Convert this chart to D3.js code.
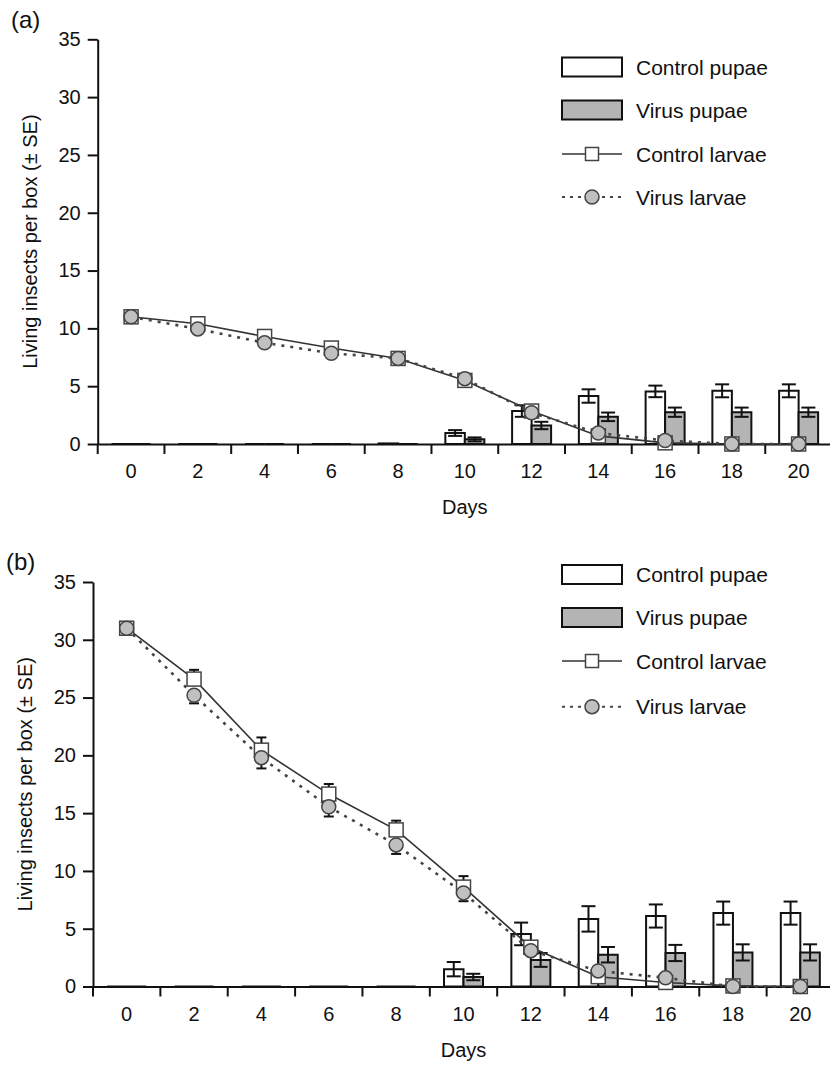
<!DOCTYPE html>
<html>
<head>
<meta charset="utf-8">
<script src="https://cdn.jsdelivr.net/npm/d3@7"></script>
<style>
  body { margin: 0; background: #fff; }
  svg text { font-family: "Liberation Sans", Arial, Helvetica, sans-serif; fill: #111; }
</style>
</head>
<body>
<svg id="chart" width="830" height="1065"></svg>
<script>
// days sampled
var days = [0, 2, 4, 6, 8, 10, 12, 14, 16, 18, 20];
var yTicks = [0, 5, 10, 15, 20, 25, 30, 35];
var legendLabels = ["Control pupae", "Virus pupae", "Control larvae", "Virus larvae"];

// panel (a)
var aControlPupae   = [0, 0, 0, 0, 0.05, 0.95, 2.85, 4.15, 4.55, 4.6, 4.6];
var aControlPupaeSE = [0, 0, 0, 0, 0, 0.25, 0.5, 0.58, 0.5, 0.56, 0.56];
var aVirusPupae     = [0, 0, 0, 0, 0, 0.4, 1.6, 2.35, 2.75, 2.75, 2.75];
var aVirusPupaeSE   = [0, 0, 0, 0, 0, 0.17, 0.32, 0.37, 0.4, 0.4, 0.4];
var aControlLarvae   = [11.0, 10.4, 9.3, 8.3, 7.4, 5.5, 2.85, 0.7, 0.1, 0, 0];
var aControlLarvaeSE = [0.2, 0.2, 0.2, 0.2, 0.2, 0.2, 0.2, 0.2, 0.1, 0, 0];
var aVirusLarvae     = [11.0, 9.95, 8.75, 7.85, 7.4, 5.65, 2.7, 0.95, 0.3, 0, 0];
var aVirusLarvaeSE   = [0.2, 0.2, 0.2, 0.2, 0.2, 0.2, 0.2, 0.2, 0.1, 0, 0];

// panel (b)
var bControlPupae   = [0, 0, 0, 0, 0, 1.5, 4.55, 5.85, 6.1, 6.35, 6.35];
var bControlPupaeSE = [0, 0, 0, 0, 0, 0.62, 0.98, 1.1, 1.0, 1.0, 1.0];
var bVirusPupae     = [0, 0, 0, 0, 0, 0.82, 2.3, 2.75, 2.9, 2.95, 2.95];
var bVirusPupaeSE   = [0, 0, 0, 0, 0, 0.28, 0.6, 0.67, 0.7, 0.7, 0.7];
var bControlLarvae   = [31.0, 26.6, 20.45, 16.65, 13.55, 8.6, 3.4, 0.85, 0.35, 0.05, 0];
var bControlLarvaeSE = [0.2, 0.8, 1.1, 0.87, 0.8, 0.95, 0.3, 0.2, 0.1, 0, 0];
var bVirusLarvae     = [31.0, 25.2, 19.8, 15.55, 12.25, 8.1, 3.1, 1.35, 0.75, 0, 0];
var bVirusLarvaeSE   = [0.2, 0.7, 0.93, 0.84, 0.78, 0.72, 0.3, 0.2, 0.1, 0, 0];

var svg = d3.select("#chart");

function drawPanel(p) {
  var g = svg.append("g");

  var x = d3.scaleBand().domain(days).range([p.left, p.right]).padding(0);
  var y = d3.scaleLinear().domain([0, 35]).range([p.bottom, p.top]);
  var bw = x.bandwidth();
  var cx = function(i) { return x(days[i]) + bw / 2; };

  // y axis
  var yAxis = g.append("g")
     .attr("transform", "translate(" + p.left + ",0)")
     .call(d3.axisLeft(y).tickValues(yTicks).tickSize(10).tickPadding(7).tickSizeOuter(0));
  yAxis.select(".domain").attr("stroke", "#111").attr("stroke-width", 2);
  yAxis.selectAll(".tick line").attr("stroke", "#111").attr("stroke-width", 2);
  yAxis.selectAll("text").style("font-size", "20px").attr("fill", "#111");

  // x axis: labels centered in bands, ticks on band edges
  var xAxis = g.append("g")
     .attr("transform", "translate(0," + p.bottom + ")")
     .call(d3.axisBottom(x).tickSize(0).tickPadding(20).tickSizeOuter(0));
  xAxis.select(".domain").attr("stroke", "#111").attr("stroke-width", 2);
  xAxis.selectAll("text").style("font-size", "20px").attr("fill", "#111");
  g.selectAll(".xedge")
    .data(days)
    .enter().append("line")
    .attr("x1", function(d) { return x(d); })
    .attr("x2", function(d) { return x(d); })
    .attr("y1", p.bottom)
    .attr("y2", p.bottom + 10)
    .attr("stroke", "#111")
    .attr("stroke-width", 2);

  // axis titles
  g.append("text")
   .attr("x", (p.left + p.right) / 2)
   .attr("y", p.bottom + 70)
   .attr("text-anchor", "middle")
   .style("font-size", "20px")
   .text("Days");
  g.append("text")
   .attr("transform", "translate(" + p.ylabX + "," + ((p.top + p.bottom) / 2) + ") rotate(-90)")
   .attr("text-anchor", "middle")
   .style("font-size", "20px")
   .text("Living insects per box (\u00b1 SE)");
  g.append("text")
   .attr("x", p.tagX)
   .attr("y", p.tagY)
   .style("font-size", "24px")
   .text(p.tag);

  // bars (paths so zero-height bars still show as a stroke)
  var barW = 19.5;
  function bars(vals, offset, fill) {
    g.selectAll(null)
      .data(vals)
      .enter().append("path")
      .attr("d", function(d, i) {
        var x0 = cx(i) + offset, x1 = x0 + barW;
        return "M" + x0 + "," + y(0) + "V" + y(d) + "H" + x1 + "V" + y(0) + "Z";
      })
      .attr("fill", fill)
      .attr("stroke", "#111")
      .attr("stroke-width", 2);
  }
  bars(p.cPupae, -barW, "#fff");
  bars(p.vPupae, 0, "#b4b4b4");

  function barErr(vals, se, offset) {
    var data = vals.map(function(v, i) { return { i: i, v: v, s: se[i] }; })
                   .filter(function(d) { return d.s > 0; });
    var eg = g.append("g").attr("stroke", "#111").attr("stroke-width", 2);
    data.forEach(function(d) {
      var xc = cx(d.i) + offset;
      eg.append("line").attr("x1", xc).attr("x2", xc).attr("y1", y(d.v - d.s)).attr("y2", y(d.v + d.s));
      eg.append("line").attr("x1", xc - 7).attr("x2", xc + 7).attr("y1", y(d.v + d.s)).attr("y2", y(d.v + d.s));
      eg.append("line").attr("x1", xc - 7).attr("x2", xc + 7).attr("y1", y(d.v - d.s)).attr("y2", y(d.v - d.s));
    });
  }
  barErr(p.cPupae, p.cPupaeSE, -barW / 2);
  barErr(p.vPupae, p.vPupaeSE, barW / 2);

  // larvae lines
  var line = d3.line().x(function(d, i) { return cx(i); }).y(function(d) { return y(d); });
  g.append("path").datum(p.cLarvae).attr("d", line)
   .attr("fill", "none").attr("stroke", "#333").attr("stroke-width", 1.6);
  g.append("path").datum(p.vLarvae).attr("d", line)
   .attr("fill", "none").attr("stroke", "#444").attr("stroke-width", 2.6)
   .attr("stroke-dasharray", "3,6");

  // one-sided error bars on larvae: control up, virus down
  function larvaErr(vals, se, dir) {
    var eg = g.append("g").attr("stroke", "#111").attr("stroke-width", 2);
    vals.forEach(function(v, i) {
      if (!(se[i] > 0)) return;
      var xc = cx(i), ye = y(v + dir * se[i]);
      eg.append("line").attr("x1", xc).attr("x2", xc).attr("y1", y(v)).attr("y2", ye);
      eg.append("line").attr("x1", xc - 5).attr("x2", xc + 5).attr("y1", ye).attr("y2", ye);
    });
  }
  larvaErr(p.cLarvae, p.cLarvaeSE, 1);
  larvaErr(p.vLarvae, p.vLarvaeSE, -1);

  g.selectAll(null).data(p.cLarvae).enter().append("rect")
   .attr("x", function(d, i) { return cx(i) - 7; })
   .attr("y", function(d) { return y(d) - 7; })
   .attr("width", 14).attr("height", 14)
   .attr("fill", "#fff").attr("stroke", "#444").attr("stroke-width", 1.5);
  g.selectAll(null).data(p.vLarvae).enter().append("circle")
   .attr("cx", function(d, i) { return cx(i); })
   .attr("cy", function(d) { return y(d); })
   .attr("r", 7)
   .attr("fill", "#c0c0c0").attr("stroke", "#444").attr("stroke-width", 1.5);

  // legend
  var lg = g.append("g").attr("transform", "translate(562,0)");
  var rows = p.legendY;
  lg.append("rect").attr("x", 0).attr("y", rows[0] - 9.5).attr("width", 60).attr("height", 19)
    .attr("fill", "#fff").attr("stroke", "#111").attr("stroke-width", 2);
  lg.append("rect").attr("x", 0).attr("y", rows[1] - 9.5).attr("width", 60).attr("height", 19)
    .attr("fill", "#b4b4b4").attr("stroke", "#111").attr("stroke-width", 2);
  lg.append("line").attr("x1", 0).attr("x2", 60).attr("y1", rows[2]).attr("y2", rows[2])
    .attr("stroke", "#333").attr("stroke-width", 1.6);
  lg.append("rect").attr("x", 23.5).attr("y", rows[2] - 6.5).attr("width", 13).attr("height", 13)
    .attr("fill", "#fff").attr("stroke", "#444").attr("stroke-width", 1.5);
  lg.append("line").attr("x1", 0).attr("x2", 60).attr("y1", rows[3]).attr("y2", rows[3])
    .attr("stroke", "#444").attr("stroke-width", 2).attr("stroke-dasharray", "3,5");
  lg.append("circle").attr("cx", 30).attr("cy", rows[3]).attr("r", 7)
    .attr("fill", "#c0c0c0").attr("stroke", "#444").attr("stroke-width", 1.5);
  lg.selectAll(null).data(legendLabels).enter().append("text")
    .attr("x", 74)
    .attr("y", function(d, i) { return rows[i] + 7.5; })
    .style("font-size", "21px")
    .text(function(d) { return d; });
}

drawPanel({
  tag: "(a)", tagX: 11, tagY: 28,
  left: 97.7, right: 832, top: 39.3, bottom: 444, ylabX: 37,
  legendY: [67, 110, 154, 197],
  cPupae: aControlPupae, cPupaeSE: aControlPupaeSE,
  vPupae: aVirusPupae, vPupaeSE: aVirusPupaeSE,
  cLarvae: aControlLarvae, cLarvaeSE: aControlLarvaeSE,
  vLarvae: aVirusLarvae, vLarvaeSE: aVirusLarvaeSE
});

drawPanel({
  tag: "(b)", tagX: 6, tagY: 570,
  left: 93, right: 834, top: 582, bottom: 986.5, ylabX: 32,
  legendY: [574.5, 617.5, 661, 706.7],
  cPupae: bControlPupae, cPupaeSE: bControlPupaeSE,
  vPupae: bVirusPupae, vPupaeSE: bVirusPupaeSE,
  cLarvae: bControlLarvae, cLarvaeSE: bControlLarvaeSE,
  vLarvae: bVirusLarvae, vLarvaeSE: bVirusLarvaeSE
});
</script>
</body>
</html>
